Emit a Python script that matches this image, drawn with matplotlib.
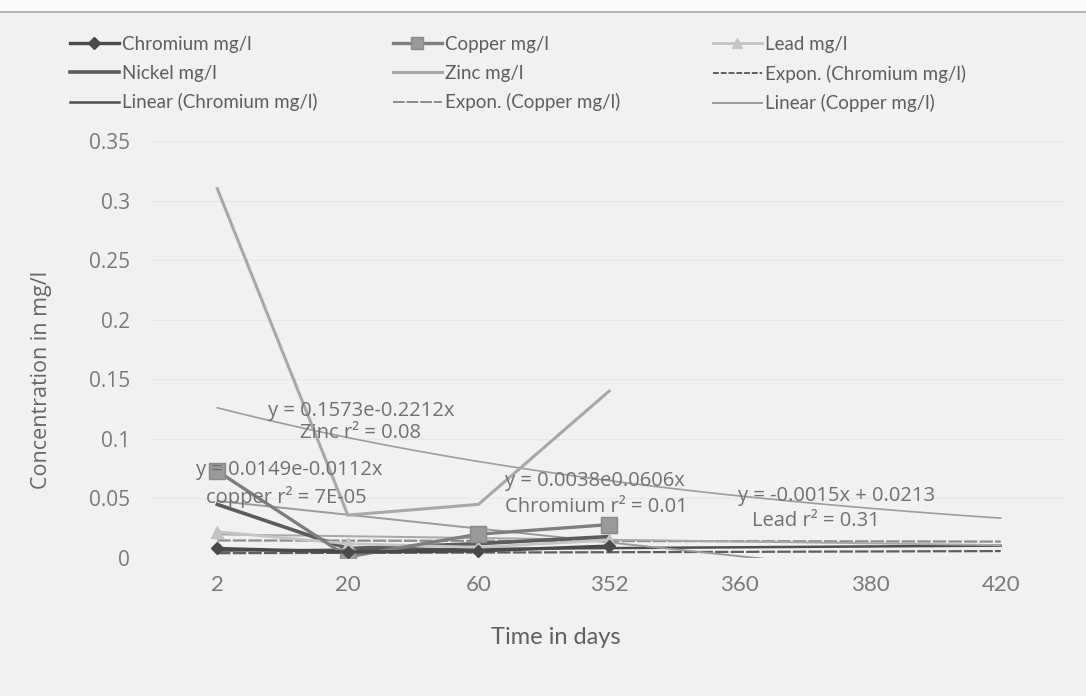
import matplotlib.pyplot as plt
import numpy as np
from matplotlib.lines import Line2D
from matplotlib.patches import Rectangle

# sampling days (category axis) and metal concentrations in mg/l
days = ['2', '20', '60', '352', '360', '380', '420']
chromium = [0.008, 0.005, 0.006, 0.010]
copper = [0.073, 0.001, 0.020, 0.028]
lead = [0.022, 0.012, 0.009, 0.015]
nickel = [0.045, 0.008, 0.012, 0.018]
zinc = [0.310, 0.036, 0.045, 0.140]

# trendline equations printed on the chart (x = category index)
zinc_exp = (0.1573, -0.2212)
copper_exp = (0.0149, -0.0112)
chromium_exp = (0.0038, 0.0606)
lead_lin = (-0.0015, 0.0213)

NARROW = ['Lato', 'DejaVu Sans']
WIDE = ['Open Sans', 'DejaVu Sans']

W, H = 1086, 696
fig = plt.figure(figsize=(W / 100, H / 100), dpi=100, facecolor='#f1f1f1')
fig.add_artist(Rectangle((0, 1 - 12 / H), 1, 12 / H, transform=fig.transFigure,
                         color='#fafafa', lw=0))

# plot area in pixels: left 152, right 1066, y=0 at 558, y=0.35 at 141
ax = fig.add_axes([152 / W, 1 - 558 / H, (1066 - 152) / W, (558 - 141) / H])
ax.set_facecolor('#f1f1f1')

xi = np.arange(1, len(days) + 1)
xd = xi[:len(chromium)]
xt = np.linspace(1, len(days), 200)

ax.set_xlim(0.5, len(days) + 0.5)
ax.set_ylim(0, 0.35)
ax.set_yticks(np.arange(0, 0.351, 0.05))
ax.set_yticklabels(['0', '0.05', '0.1', '0.15', '0.2', '0.25', '0.3', '0.35'])
ax.set_xticks(xi)
ax.set_xticklabels(days)
for s in ax.spines.values():
    s.set_visible(False)
ax.tick_params(length=0)
ax.tick_params(axis='y', labelsize=15, labelcolor='#7a7a7a', pad=16)
ax.tick_params(axis='x', labelsize=16, labelcolor='#7a7a7a', pad=12)
for t in ax.get_yticklabels():
    t.set_family(WIDE)
for t in ax.get_xticklabels():
    t.set_family(NARROW)
ax.grid(axis='y', color='#e7e7e7', lw=0.8)
ax.set_axisbelow(True)

# trendlines
lin_cr = np.polyfit(xd, chromium, 1)
lin_cu = np.polyfit(xd, copper, 1)
ax.plot(xt, zinc_exp[0] * np.exp(zinc_exp[1] * xt), color='#9c9c9c', lw=1.2)
ax.plot(xt, chromium_exp[0] * np.exp(chromium_exp[1] * xt), color='#5e5e5e', lw=1.6, ls=(0, (6, 1)))
ax.plot(xt, np.polyval(lin_cr, xt), color='#4f4f4f', lw=1.8)
ax.plot(xt, copper_exp[0] * np.exp(copper_exp[1] * xt), color='#8c8c8c', lw=1.6, ls=(0, (6, 1)))
ax.plot(xt, np.polyval(lin_cu, xt), color='#9a9a9a', lw=1.4)
ax.plot(xt, lead_lin[0] * xt + lead_lin[1], color='#a8a8a8', lw=1.4)

# measured series
ax.plot(xd, zinc, color='#a8a8a8', lw=2.2)
ax.plot(xd, nickel, color='#5c5c5c', lw=2.6)
ax.plot(xd, lead, color='#c4c4c4', lw=2, marker='^', ms=8)
ax.plot(xd, copper, color='#7e7e7e', lw=2.4, marker='s', ms=11, mfc='#9a9a9a', mec='#8a8a8a')
ax.plot(xd, chromium, color='#4a4a4a', lw=2.4, marker='D', ms=6)

# trendline labels
lbl = dict(color='#707070', fontsize=14.5, family=WIDE, va='center')
notes = [
    (268, 411, 'y = 0.1573e-0.2212x'),
    (300, 433, 'Zinc r² = 0.08'),
    (196, 470, 'y = 0.0149e-0.0112x'),
    (206, 497, 'copper r² = 7E-05'),
    (505, 481, 'y = 0.0038e0.0606x'),
    (505, 507, 'Chromium r² = 0.01'),
    (738, 496, 'y = -0.0015x + 0.0213'),
    (752, 521, 'Lead r² = 0.31'),
]
for px, py, s in notes:
    fig.text(px / W, 1 - py / H, s, **lbl)

fig.text(42 / W, 1 - 380 / H, 'Concentration in mg/l', rotation=90, ha='center', va='center',
         fontsize=15.5, color='#666666', family=WIDE)
fig.text(556 / W, 1 - 637 / H, 'Time in days', ha='center', va='center',
         fontsize=17, color='#606060', family=NARROW)

# legend, three columns
cols = [
    [Line2D([], [], color='#4a4a4a', lw=2.4, marker='D', ms=6),
     Line2D([], [], color='#5c5c5c', lw=2.6),
     Line2D([], [], color='#4f4f4f', lw=1.8)],
    [Line2D([], [], color='#7e7e7e', lw=2.4, marker='s', ms=9, mfc='#9a9a9a', mec='#8a8a8a'),
     Line2D([], [], color='#a8a8a8', lw=2.2),
     Line2D([], [], color='#8c8c8c', lw=1.4, ls=(0, (6, 1)))],
    [Line2D([], [], color='#c4c4c4', lw=2, marker='^', ms=7),
     Line2D([], [], color='#5e5e5e', lw=1.4, ls=(0, (3, 1))),
     Line2D([], [], color='#9a9a9a', lw=1.4)],
]
names = [
    ['Chromium mg/l', 'Nickel mg/l', 'Linear (Chromium mg/l)'],
    ['Copper mg/l', 'Zinc mg/l', 'Expon. (Copper mg/l)'],
    ['Lead mg/l', 'Expon. (Chromium mg/l)', 'Linear (Copper mg/l)'],
]
for x0, h, n in zip([70, 393, 713], cols, names):
    leg = fig.legend(h, n, loc='upper left', bbox_to_anchor=(x0 / W, 1 - 36 / H), frameon=False,
                     borderpad=0, borderaxespad=0, handlelength=2.6, handletextpad=0.15,
                     labelspacing=0.62, prop={'family': NARROW, 'size': 13.5})
    for t in leg.get_texts():
        t.set_color('#5e5e5e')

# border line along the top
fig.add_artist(Line2D([0, 1], [1 - 12 / H, 1 - 12 / H], color='#b8b8b8', lw=1.5))

fig.savefig('out.png', dpi=100, facecolor=fig.get_facecolor())
